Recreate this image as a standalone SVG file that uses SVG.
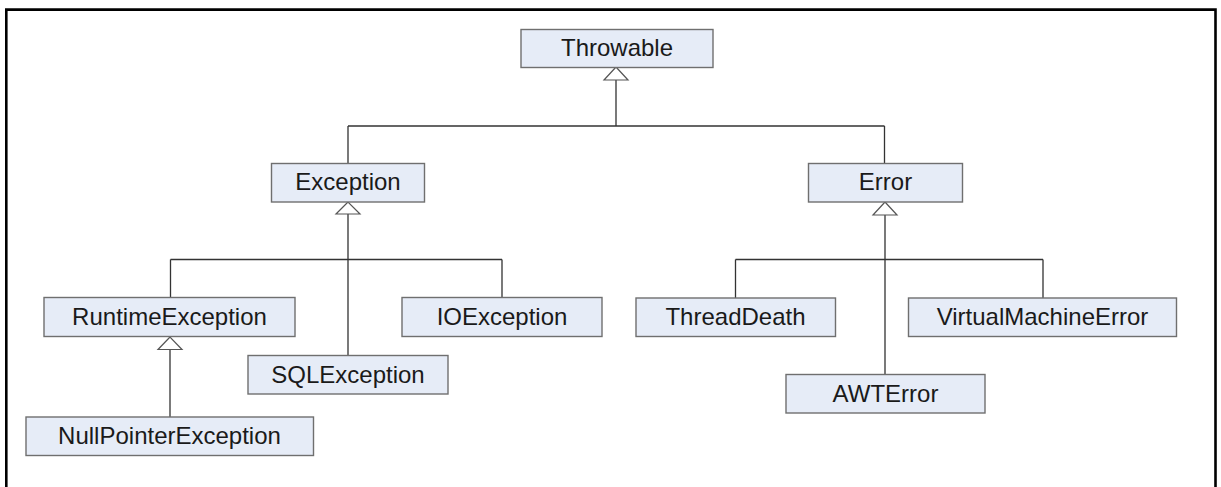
<svg xmlns="http://www.w3.org/2000/svg" width="1221" height="487" viewBox="0 0 1221 487">
  <defs>
    <style>
      .frame { fill: none; stroke: #000; stroke-width: 2.6; }
      .node rect { fill: #e6ecf7; stroke: #6f6f6f; stroke-width: 1.4; }
      .node text { font-family: "Liberation Sans", Arial, sans-serif; font-size: 24px; fill: #1a1a1a; text-anchor: middle; }
      .edge { fill: none; stroke: #333; stroke-width: 1.3; }
      .head { fill: #fff; stroke: #555; stroke-width: 1.2; }
    </style>
  </defs>

  <rect width="1221" height="487" fill="#fff"/>
  <path class="frame" d="M6.3,490 V9.6 H1215.5 V490"/>

  <!-- generalization connectors -->
  <g id="connectors">
    <!-- Throwable <- Exception, Error -->
    <path class="edge" d="M616,80 V126 M348,126 H884.5 M348,126 V163 M884.5,126 V163"/>
    <polygon class="head" points="616,67 604,80 628,80"/>
    <!-- Exception <- RuntimeException, SQLException, IOException -->
    <path class="edge" d="M348,214 V355.5 M170.5,259.5 H502 M170.5,259.5 V297.5 M502,259.5 V297.5"/>
    <polygon class="head" points="348,202 336,214 360,214"/>
    <!-- Error <- ThreadDeath, AWTError, VirtualMachineError -->
    <path class="edge" d="M885,215 V374 M735.5,259.5 H1043 M735.5,259.5 V298 M1043,259.5 V298"/>
    <polygon class="head" points="885,202 873,215 897,215"/>
    <!-- RuntimeException <- NullPointerException -->
    <path class="edge" d="M170,349.5 V417"/>
    <polygon class="head" points="170,337 158,349.5 182,349.5"/>
  </g>

  <g id="throwable" class="node">
    <rect x="521" y="29.5" width="192" height="38"/>
    <text x="617" y="55.5">Throwable</text>
  </g>
  <g id="exception" class="node">
    <rect x="271.5" y="163.5" width="153" height="38.5"/>
    <text x="348" y="190">Exception</text>
  </g>
  <g id="error" class="node">
    <rect x="808.5" y="163.5" width="154" height="38.5"/>
    <text x="885.5" y="190">Error</text>
  </g>
  <g id="runtime-exception" class="node">
    <rect x="44" y="297.5" width="251" height="39"/>
    <text x="169.5" y="324.5">RuntimeException</text>
  </g>
  <g id="io-exception" class="node">
    <rect x="402" y="297.5" width="200" height="39"/>
    <text x="502" y="324.5">IOException</text>
  </g>
  <g id="sql-exception" class="node">
    <rect x="248" y="355.5" width="200" height="38.5"/>
    <text x="348" y="382.5">SQLException</text>
  </g>
  <g id="null-pointer-exception" class="node">
    <rect x="26" y="417" width="287.5" height="38.5"/>
    <text x="169.5" y="444">NullPointerException</text>
  </g>
  <g id="thread-death" class="node">
    <rect x="636" y="298" width="199.5" height="38.5"/>
    <text x="735.5" y="325">ThreadDeath</text>
  </g>
  <g id="virtual-machine-error" class="node">
    <rect x="908.5" y="298" width="268" height="38.5"/>
    <text x="1042.5" y="325">VirtualMachineError</text>
  </g>
  <g id="awt-error" class="node">
    <rect x="786" y="374.5" width="199" height="38.5"/>
    <text x="885.5" y="401.5">AWTError</text>
  </g>
</svg>
